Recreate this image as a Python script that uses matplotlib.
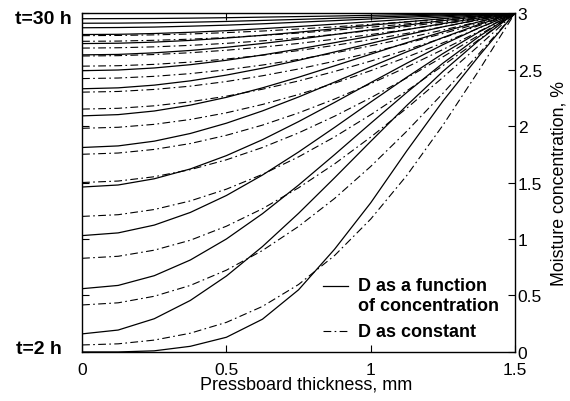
import matplotlib
matplotlib.use("Agg")
import matplotlib.pyplot as plt

plt.rcParams['font.family'] = ['Liberation Sans', 'DejaVu Sans']

# thickness positions (mm)
x_mm = [0.0, 0.125, 0.25, 0.375, 0.5, 0.625, 0.75, 0.875, 1.0, 1.125, 1.25, 1.375, 1.5]
times_h = [2, 4, 6, 8, 10, 12, 14, 16, 18, 20, 22, 24, 26, 28, 30]

# D as a function of concentration (solid)
solid_curves = [
    [0.00, 0.00, 0.01, 0.05, 0.13, 0.29, 0.55, 0.91, 1.32, 1.78, 2.22, 2.62, 3.0],
    [0.16, 0.194, 0.294, 0.456, 0.672, 0.933, 1.227, 1.542, 1.864, 2.182, 2.483, 2.758, 3.0],
    [0.56, 0.589, 0.675, 0.814, 1.000, 1.224, 1.477, 1.747, 2.024, 2.297, 2.556, 2.792, 3.0],
    [1.03, 1.054, 1.123, 1.235, 1.385, 1.566, 1.770, 1.988, 2.212, 2.432, 2.641, 2.832, 3.0],
    [1.46, 1.478, 1.533, 1.620, 1.738, 1.879, 2.039, 2.209, 2.384, 2.556, 2.720, 2.869, 3.0],
    [1.81, 1.824, 1.866, 1.934, 2.025, 2.134, 2.257, 2.389, 2.524, 2.657, 2.783, 2.899, 3.0],
    [2.09, 2.101, 2.133, 2.185, 2.254, 2.338, 2.432, 2.533, 2.636, 2.738, 2.834, 2.923, 3.0],
    [2.33, 2.338, 2.362, 2.400, 2.451, 2.512, 2.582, 2.656, 2.732, 2.807, 2.878, 2.943, 3.0],
    [2.49, 2.496, 2.514, 2.543, 2.582, 2.629, 2.682, 2.738, 2.796, 2.853, 2.907, 2.957, 3.0],
    [2.63, 2.634, 2.648, 2.669, 2.697, 2.731, 2.769, 2.810, 2.852, 2.893, 2.933, 2.969, 3.0],
    [2.73, 2.733, 2.743, 2.758, 2.779, 2.803, 2.831, 2.861, 2.892, 2.922, 2.951, 2.977, 3.0],
    [2.81, 2.812, 2.819, 2.830, 2.844, 2.862, 2.881, 2.902, 2.924, 2.945, 2.965, 2.984, 3.0],
    [2.87, 2.872, 2.876, 2.884, 2.893, 2.905, 2.919, 2.933, 2.948, 2.963, 2.976, 2.989, 3.0],
    [2.91, 2.911, 2.914, 2.919, 2.926, 2.935, 2.944, 2.954, 2.964, 2.974, 2.984, 2.992, 3.0],
    [2.95, 2.951, 2.952, 2.955, 2.959, 2.964, 2.969, 2.974, 2.980, 2.986, 2.991, 2.996, 3.0],
]

# D as constant (dash-dot)
dashdot_curves = [
    [0.062, 0.072, 0.105, 0.166, 0.262, 0.403, 0.597, 0.854, 1.176, 1.562, 2.006, 2.492, 3.0],
    [0.416, 0.435, 0.493, 0.589, 0.724, 0.898, 1.111, 1.359, 1.642, 1.954, 2.289, 2.640, 3.0],
    [0.829, 0.847, 0.901, 0.989, 1.113, 1.268, 1.453, 1.665, 1.902, 2.158, 2.430, 2.712, 3.0],
    [1.20, 1.215, 1.261, 1.337, 1.441, 1.572, 1.727, 1.904, 2.100, 2.311, 2.534, 2.765, 3.0],
    [1.50, 1.513, 1.551, 1.614, 1.701, 1.810, 1.939, 2.087, 2.250, 2.426, 2.612, 2.804, 3.0],
    [1.75, 1.761, 1.793, 1.845, 1.918, 2.008, 2.116, 2.239, 2.375, 2.522, 2.677, 2.837, 3.0],
    [1.98, 1.989, 2.015, 2.058, 2.117, 2.191, 2.279, 2.379, 2.490, 2.610, 2.736, 2.867, 3.0],
    [2.15, 2.157, 2.179, 2.215, 2.264, 2.326, 2.399, 2.483, 2.575, 2.675, 2.780, 2.889, 3.0],
    [2.30, 2.306, 2.324, 2.353, 2.394, 2.445, 2.505, 2.574, 2.650, 2.732, 2.819, 2.909, 3.0],
    [2.42, 2.425, 2.440, 2.464, 2.498, 2.540, 2.590, 2.647, 2.710, 2.778, 2.850, 2.924, 3.0],
    [2.53, 2.534, 2.546, 2.566, 2.593, 2.627, 2.668, 2.714, 2.765, 2.820, 2.878, 2.939, 3.0],
    [2.62, 2.623, 2.633, 2.649, 2.671, 2.699, 2.731, 2.769, 2.810, 2.855, 2.902, 2.950, 3.0],
    [2.69, 2.693, 2.701, 2.714, 2.732, 2.754, 2.781, 2.811, 2.845, 2.881, 2.920, 2.960, 3.0],
    [2.75, 2.752, 2.759, 2.769, 2.783, 2.802, 2.823, 2.848, 2.875, 2.904, 2.935, 2.967, 3.0],
    [2.80, 2.802, 2.807, 2.815, 2.827, 2.841, 2.859, 2.878, 2.900, 2.923, 2.948, 2.974, 3.0],
]

x_ticks = [0, 0.5, 1, 1.5]
x_tick_labels = ["0", "0.5", "1", "1.5"]
y_ticks = [0, 0.5, 1, 1.5, 2, 2.5, 3]
y_tick_labels = ["0", "0.5", "1", "1.5", "2", "2.5", "3"]

fig = plt.figure(figsize=(5.7, 4.02), dpi=100)
ax = fig.add_axes([0.144, 0.122, 0.7595, 0.843])

dd = (0, (7, 3, 1.5, 3))
for ys in solid_curves:
    ax.plot(x_mm, ys, color='black', lw=0.9, solid_capstyle='butt',
            solid_joinstyle='round')
for ys in dashdot_curves:
    ax.plot(x_mm, ys, color='black', lw=0.8, linestyle=dd)

ax.set_xlim(0, 1.5)
ax.set_ylim(0, 3)
ax.set_xticks(x_ticks)
ax.set_xticklabels(x_tick_labels)
ax.set_yticks(y_ticks)
ax.set_yticklabels(y_tick_labels)
ax.yaxis.tick_right()
ax.yaxis.set_label_position('right')
ax.tick_params(direction='in', length=5, width=0.8, top=True, bottom=True,
               left=True, right=True, labelsize=12.5)
ax.tick_params(axis='x', pad=7)
ax.tick_params(axis='y', labelleft=False, labelright=True, pad=2)
for s in ax.spines.values():
    s.set_linewidth(1.0)

ax.set_xlabel("Pressboard thickness, mm", fontsize=13)
ax.set_ylabel("Moisture concentration, %", fontsize=12.8)
ax.xaxis.set_label_coords(0.518, -0.07)
ax.yaxis.set_label_coords(1.083, 0.5)

ax.text(-0.035, 2.95, "t=30 h", ha='right', va='center', fontsize=14,
        fontweight='bold', clip_on=False)
ax.text(-0.069, 0.03, "t=2 h", ha='right', va='center', fontsize=14,
        fontweight='bold', clip_on=False)

# legend
ax.plot([0.835, 0.92], [0.585, 0.585], color='black', lw=0.9)
ax.plot([0.835, 0.92], [0.185, 0.185], color='black', lw=0.8, linestyle=dd)
ax.text(0.955, 0.585, "D as a function", ha='left', va='center',
        fontsize=13, fontweight='bold')
ax.text(0.955, 0.415, "of concentration", ha='left', va='center',
        fontsize=13, fontweight='bold')
ax.text(0.955, 0.185, "D as constant", ha='left', va='center',
        fontsize=13, fontweight='bold')

fig.savefig("out.png", dpi=100)
